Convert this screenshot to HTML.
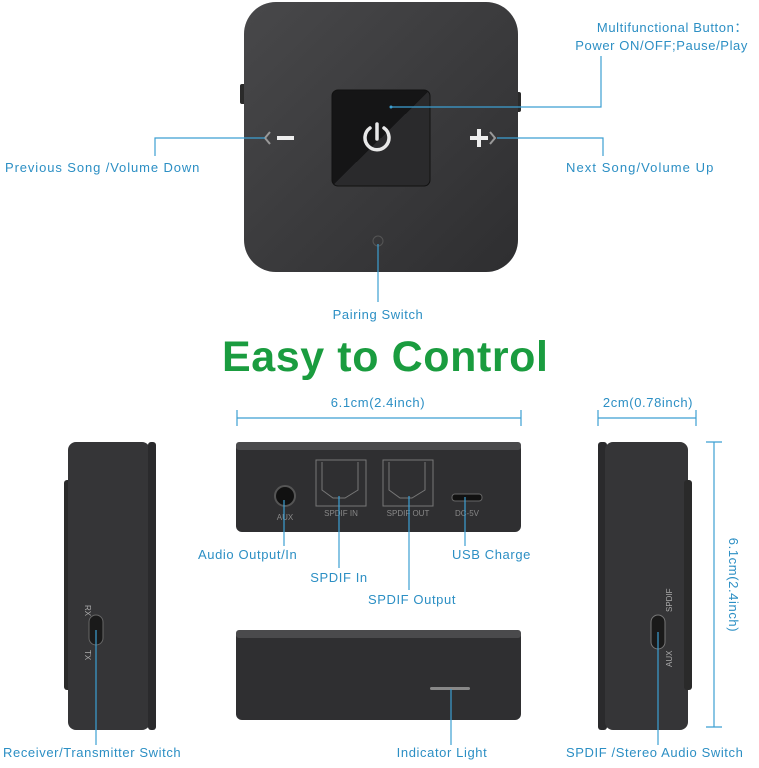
<!DOCTYPE html>
<html><head><style>
body{margin:0;background:#fff;width:759px;height:768px;overflow:hidden}
svg{display:block}
text{font-family:"Liberation Sans",sans-serif}
.l{font-size:13px;fill:#2c8fc4;letter-spacing:0.6px}
.ln{stroke:#3c9fd2;stroke-width:1.2;fill:none}
</style></head><body>
<svg width="759" height="768" viewBox="0 0 759 768">
<defs>
<linearGradient id="g1" x1="0" y1="0" x2="1" y2="1"><stop offset="0" stop-color="#48484a"/><stop offset="1" stop-color="#2e2e30"/></linearGradient>
<linearGradient id="bt" x1="0" y1="0" x2="1" y2="1"><stop offset="0.5" stop-color="#151516"/><stop offset="0.5" stop-color="#2a2a2c"/></linearGradient>
</defs>
<rect x="240" y="84" width="6" height="20" rx="2" fill="#2a2a2a"/>
<rect x="515" y="92" width="6" height="20" rx="2" fill="#2a2a2a"/>
<rect x="244" y="2" width="274" height="270" rx="32" fill="url(#g1)"/>
<rect x="332" y="90" width="98" height="96" rx="6" fill="url(#bt)" stroke="#111" />
<path d="M370 128 A12 12 0 1 0 384 128" stroke="#e8e8e8" stroke-width="3.5" fill="none" stroke-linecap="round"/>
<line x1="377" y1="124" x2="377" y2="139" stroke="#e8e8e8" stroke-width="3.5" stroke-linecap="round"/>
<rect x="277" y="136" width="17" height="4" fill="#eee"/>
<rect x="470" y="136" width="18" height="4" fill="#eee"/><rect x="477" y="129" width="4" height="18" fill="#eee"/>
<path d="M270 132 L265 138 L270 144" stroke="#999" stroke-width="2" fill="none"/>
<path d="M490 132 L495 138 L490 144" stroke="#999" stroke-width="2" fill="none"/>
<circle cx="378" cy="241" r="5" fill="none" stroke="#555"/>
<path class="ln" d="M391 107 H601 V56"/><circle cx="391" cy="107" r="1.5" fill="#3c9fd2"/>
<path class="ln" d="M265 138 H155 V156"/>
<path class="ln" d="M497 138 H603 V156"/>
<path class="ln" d="M378 244 V302"/>
<text class="l" x="748" y="32" text-anchor="end">Multifunctional Button：</text>
<text class="l" x="748" y="50" text-anchor="end">Power ON/OFF;Pause/Play</text>
<text class="l" x="5" y="172" textLength="195">Previous Song /Volume Down</text>
<text class="l" x="566" y="172" textLength="148">Next Song/Volume Up</text>
<text class="l" x="378" y="319" text-anchor="middle">Pairing Switch</text>
<text x="385" y="371" text-anchor="middle" font-size="43" font-weight="bold" fill="#1a9c3f" textLength="326">Easy to Control</text>
<text class="l" x="378" y="407" text-anchor="middle">6.1cm(2.4inch)</text>
<path class="ln" d="M237 418 H521 M237 410 V426 M521 410 V426"/>
<text class="l" x="648" y="407" text-anchor="middle">2cm(0.78inch)</text>
<path class="ln" d="M598 418 H696 M598 410 V426 M696 410 V426"/>
<rect x="236" y="442" width="285" height="90" rx="6" fill="#2f2f31"/>
<rect x="236" y="442" width="285" height="8" rx="3" fill="#4a4a4c"/>
<circle cx="285" cy="496" r="10" fill="#111" stroke="#555" stroke-width="2"/>
<text x="285" y="520" font-size="8" fill="#888" text-anchor="middle">AUX</text>
<rect x="316" y="460" width="50" height="46" fill="none" stroke="#777"/>
<path d="M322 462 V490 L333 498 H345 L358 490 V462" stroke="#777" fill="none"/>
<text x="341" y="516" font-size="8" fill="#888" text-anchor="middle">SPDIF IN</text>
<rect x="383" y="460" width="50" height="46" fill="none" stroke="#777"/>
<path d="M389 462 V490 L400 498 H412 L425 490 V462" stroke="#777" fill="none"/>
<text x="408" y="516" font-size="8" fill="#888" text-anchor="middle">SPDIF OUT</text>
<rect x="452" y="494" width="30" height="7" rx="3" fill="#111" stroke="#666"/>
<text x="467" y="516" font-size="8" fill="#888" text-anchor="middle">DC-5V</text>
<path class="ln" d="M284 500 V546 M339 496 V568 M409 496 V590 M465 497 V546"/>
<text class="l" x="198" y="559">Audio Output/In</text>
<text class="l" x="339" y="582" text-anchor="middle">SPDIF In</text>
<text class="l" x="412" y="604" text-anchor="middle">SPDIF Output</text>
<text class="l" x="452" y="559">USB Charge</text>
<rect x="236" y="630" width="285" height="90" rx="6" fill="#2f2f31"/>
<rect x="236" y="630" width="285" height="8" rx="3" fill="#4a4a4c"/>
<rect x="430" y="687" width="40" height="3" rx="1.5" fill="#888"/>
<path class="ln" d="M451 689 V745"/>
<text class="l" x="442" y="757" text-anchor="middle">Indicator Light</text>
<rect x="64" y="480" width="10" height="210" rx="3" fill="#2a2a2a"/>
<rect x="68" y="442" width="82" height="288" rx="8" fill="#353537"/>
<rect x="148" y="442" width="8" height="288" rx="3" fill="#2a2a2c"/>
<rect x="89" y="615" width="14" height="30" rx="7" fill="#1a1a1a" stroke="#666"/>
<text x="85" y="605" font-size="8" fill="#aaa" transform="rotate(90 85 605)">RX</text>
<text x="85" y="650" font-size="8" fill="#aaa" transform="rotate(90 85 650)">TX</text>
<path class="ln" d="M96 630 V745"/>
<text class="l" x="3" y="757">Receiver/Transmitter Switch</text>
<rect x="598" y="442" width="9" height="288" rx="3" fill="#2a2a2c"/>
<rect x="605" y="442" width="83" height="288" rx="8" fill="#353537"/>
<rect x="684" y="480" width="8" height="210" rx="3" fill="#2a2a2a"/>
<rect x="651" y="615" width="14" height="34" rx="7" fill="#1a1a1a" stroke="#777"/>
<text x="672" y="612" font-size="8" fill="#aaa" transform="rotate(-90 672 612)">SPDIF</text>
<text x="672" y="667" font-size="8" fill="#aaa" transform="rotate(-90 672 667)">AUX</text>
<path class="ln" d="M658 632 V745"/>
<text class="l" x="566" y="757">SPDIF /Stereo Audio Switch</text>
<path class="ln" d="M714 442 V727 M706 442 H722 M706 727 H722"/>
<text class="l" x="729" y="585" text-anchor="middle" transform="rotate(90 729 585)">6.1cm(2.4inch)</text>
</svg>
</body></html>
